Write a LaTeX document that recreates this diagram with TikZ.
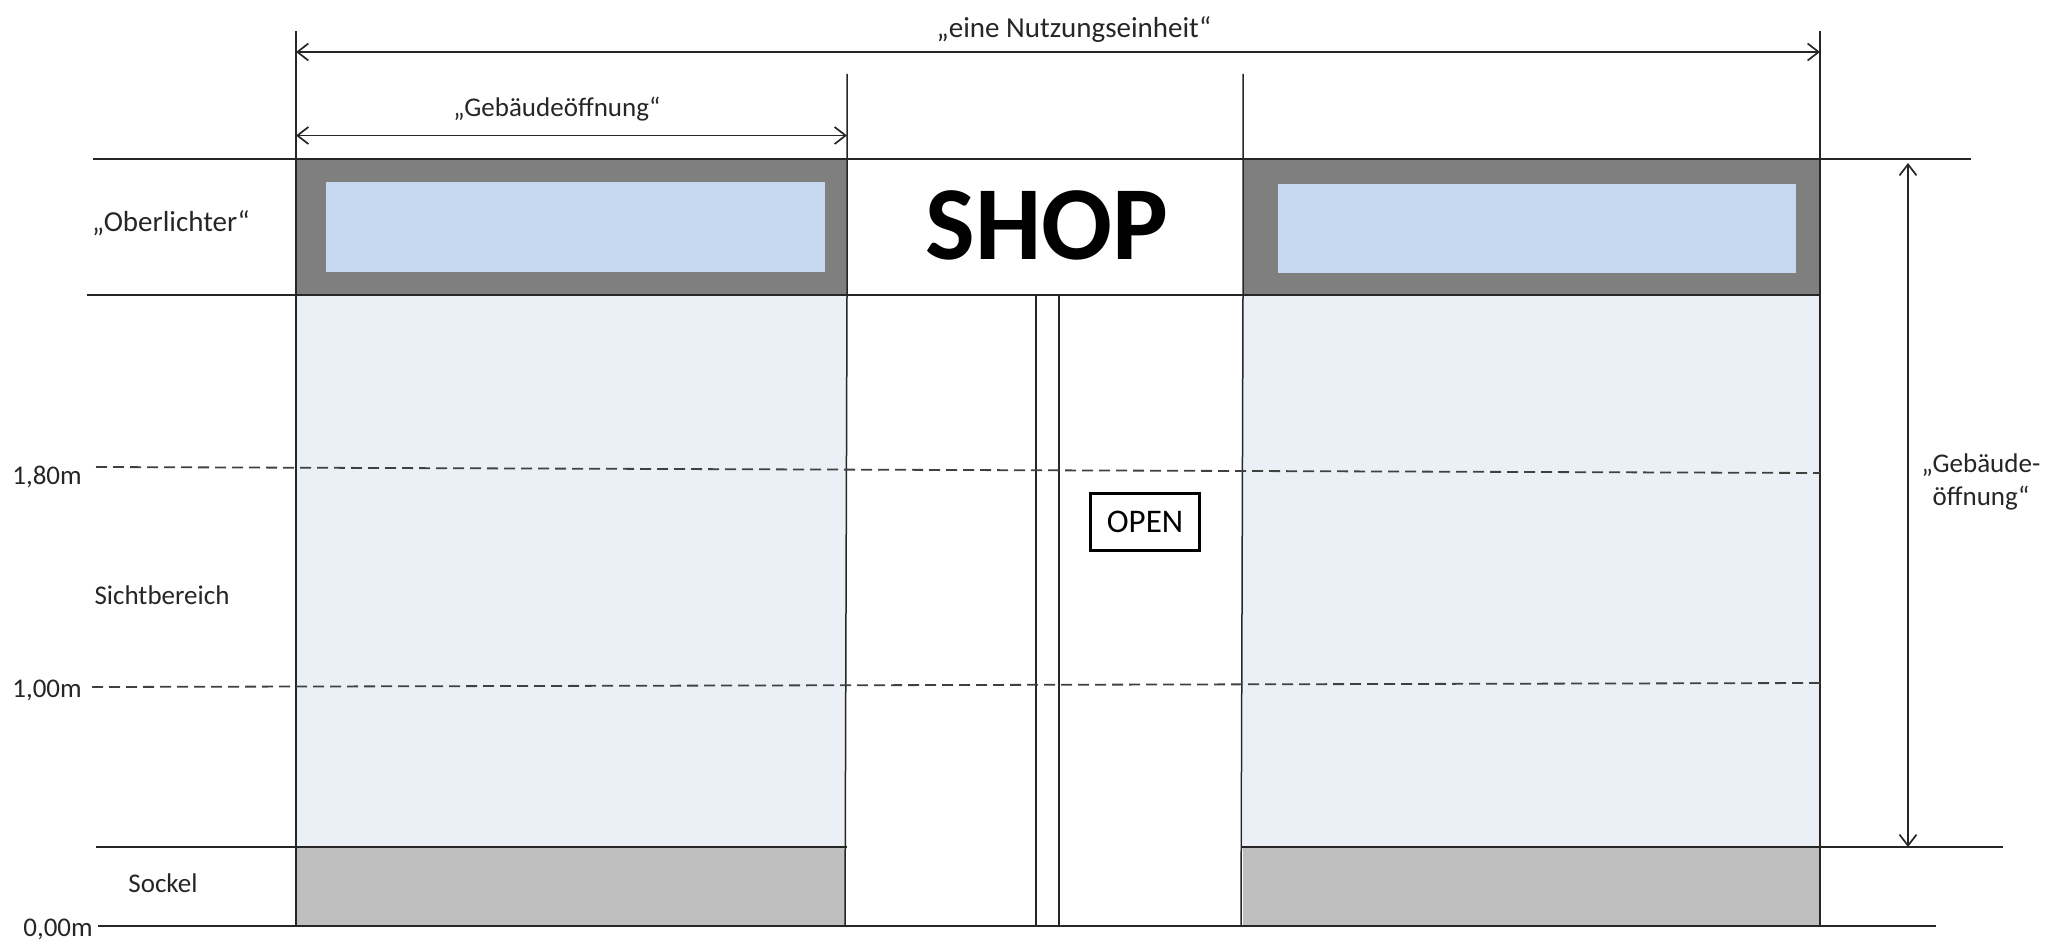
\documentclass[tikz,border=0pt]{standalone}
\usepackage{fontspec}
\setmainfont{Carlito}
\usetikzlibrary{arrows.meta}
\definecolor{frameGray}{RGB}{127,127,127}
\definecolor{paneBlue}{RGB}{198,216,240}
\definecolor{glassBlue}{RGB}{235,240,247}
\definecolor{plinthGray}{RGB}{191,191,191}
\tikzset{
  thinLine/.style={line width=1.5pt,color=black!85},
  levelLine/.style={line width=1.8pt,color=black!75,dash pattern=on 11pt off 6pt},
  dimLine/.style={line width=1.7pt,color=black!85,{Straight Barb[length=11pt,width=17pt]}-{Straight Barb[length=11pt,width=17pt]}},
  label/.style={font=\fontsize{27}{33}\selectfont,text=black!85,inner sep=0pt},
  wideLabel/.style={label,font=\fontsize{29}{33}\selectfont}
}

\begin{document}
\begin{tikzpicture}[x=1pt,y=1pt,yscale=-1,xscale=1]
\useasboundingbox (0,0) rectangle (2065,942);

%Shape: Rectangles, left and right bay
\fill [glassBlue] (296,295) rectangle (846,847);
\fill [glassBlue] (1243,295) rectangle (1820,847);
\fill [frameGray] (296,159) rectangle (847,295);
\fill [frameGray] (1243,159) rectangle (1820,295);
\fill [paneBlue] (325.5,182) rectangle (825,272);
\fill [paneBlue] (1278,184) rectangle (1796,273);
\fill [plinthGray] (296,847) rectangle (845,926);
\fill [plinthGray] (1243,847) rectangle (1820,926);

%Straight Lines, horizontal
\draw [thinLine] (93,159) -- (1971,159);
\draw [thinLine] (87,295) -- (1820,295);
\draw [thinLine] (96,847) -- (847,847);
\draw [thinLine] (1241,847) -- (2003,847);
\draw [thinLine] (98,926) -- (1936,926);

%Straight Lines, vertical
\draw [thinLine] (296,31) -- (296,926);
\draw [thinLine] (847,74) -- (847,295) -- (845,926);
\draw [thinLine] (1243,74) -- (1243,295) -- (1241,926);
\draw [thinLine] (1820,31) -- (1820,926);

%Shape: Rectangle, door post
\draw [thinLine] (1036,295) rectangle (1058.9,926);

%Dashed Lines
\draw [levelLine] (96,467) -- (1820,473);
\draw [levelLine] (92,687) -- (1820,683);

%Dimension arrows
\coordinate (unitLeft) at (296,52);
\coordinate (unitRight) at (1820,52);
\coordinate (bayLeft) at (296,135.5);
\coordinate (bayRight) at (847,135.5);
\coordinate (heightTop) at (1908,163);
\coordinate (heightBottom) at (1908,847);
\draw [dimLine] (unitLeft) -- (unitRight);
\draw [dimLine] (bayLeft) -- (bayRight);
\draw [dimLine] (heightTop) -- (heightBottom);

% Text Node
\draw (1074,30) node [wideLabel] (unitLabel) {„eine Nutzungseinheit“};
% Text Node
\draw (557,109) node [label] (bayLabel) {„Gebäudeöffnung“};
% Text Node
\draw (171,223) node [wideLabel] (skylightLabel) {„Oberlichter“};
% Text Node
\draw (1047,225) node [inner sep=0pt,text=black,font=\fontsize{105}{120}\selectfont\bfseries] (shopLabel) {SHOP};
% Text Node
\draw (47,477) node [label] (levelHigh) {1,80m};
% Text Node
\draw (162,595) node [label] (viewLabel) {Sichtbereich};
% Text Node
\draw (47,690) node [label] (levelMid) {1,00m};
% Text Node
\draw (163,883) node [label] (plinthLabel) {Sockel};
% Text Node
\draw (58,929) node [label] (levelZero) {0,00m};
% Text Node
\draw (1981,482) node [label,align=center] (heightLabel) {„Gebäude-\\öffnung“};
% Text Node
\draw (1145,522) node [draw=black,line width=2.2pt,minimum width=109pt,minimum height=57pt,inner sep=0pt,font=\fontsize{33}{38}\selectfont] (openSign) {OPEN};

\end{tikzpicture}
\end{document}
